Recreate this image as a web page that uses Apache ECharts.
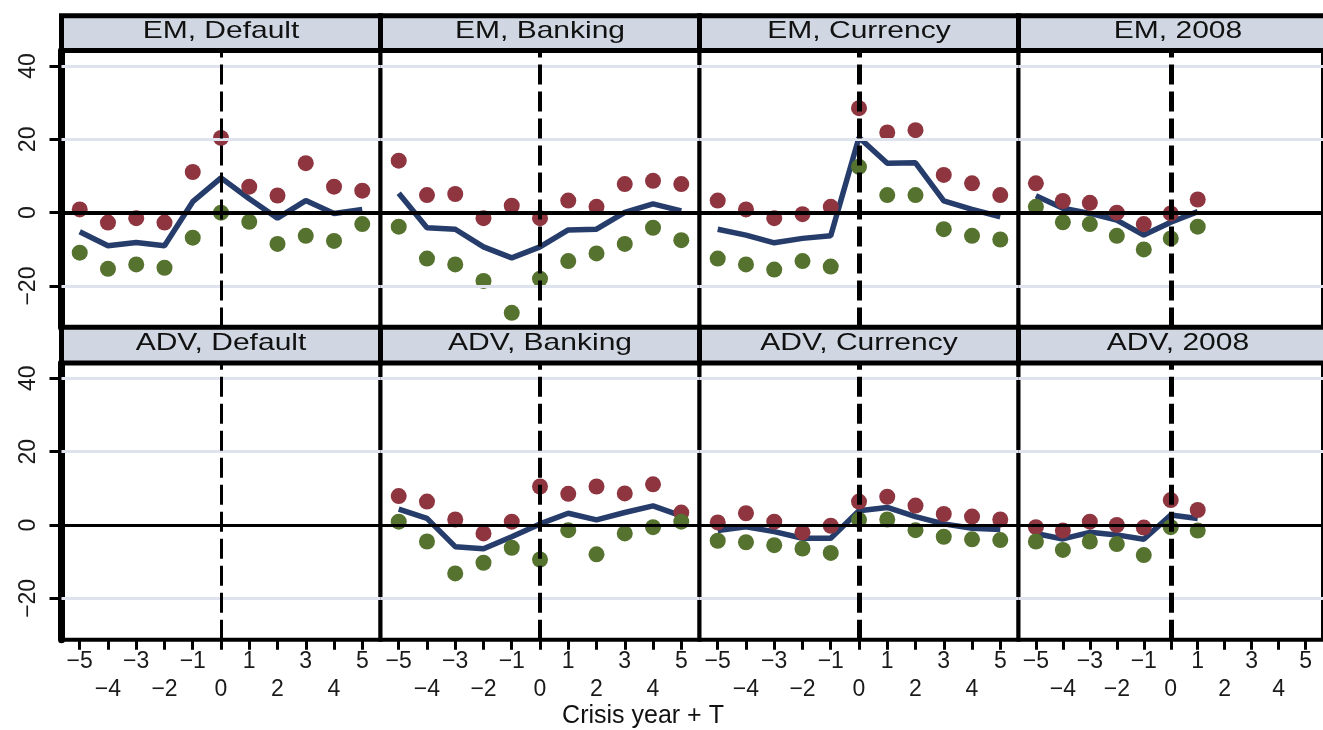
<!DOCTYPE html>
<html><head><meta charset="utf-8">
<script src="https://cdn.jsdelivr.net/npm/echarts@6/dist/echarts.min.js"></script>
<style>html,body{margin:0;padding:0;background:#fff}#chart{width:1323px;height:730px}</style>
</head><body><div id="chart"></div>
<script>
// ---------- data ----------
const years = [-5, -4, -3, -2, -1, 0, 1, 2, 3, 4, 5];
const years2008 = [-5, -4, -3, -2, -1, 0, 1];
const yTickValues = [-20, 0, 20, 40];
const refLineValues = [40, 20, -20];
const panelTitles = ['EM, Default', 'EM, Banking', 'EM, Currency', 'EM, 2008',
                     'ADV, Default', 'ADV, Banking', 'ADV, Currency', 'ADV, 2008'];
const axisTitle = 'Crisis year + T';

const emDefaultHigh = [0.9, -2.7, -1.5, -2.7, 11.1, 20.4, 7.1, 4.7, 13.5, 7.1, 6.0];
const emDefaultLow  = [-10.9, -15.3, -14.1, -15.0, -6.8, 0.0, -2.5, -8.5, -6.3, -7.7, -3.1];
const emDefaultMean = [-5.2, -9.0, -8.1, -9.0, 3.0, 9.5, 3.8, -1.5, 3.3, -0.2, 0.9];

const emBankingHigh = [14.2, 4.8, 5.1, -1.5, 1.9, -1.5, 3.3, 1.6, 7.8, 8.7, 7.8];
const emBankingLow  = [-3.8, -12.5, -14.1, -18.6, -27.3, -18.0, -13.2, -11.1, -8.5, -4.1, -7.5];
const emBankingMean = [5.3, -4.1, -4.5, -9.3, -12.3, -9.3, -4.7, -4.5, 0.1, 2.4, 0.5];

const emCurrencyHigh = [3.3, 0.9, -1.5, -0.4, 1.6, 28.5, 21.9, 22.5, 10.3, 8.0, 4.8];
const emCurrencyLow  = [-12.5, -14.1, -15.5, -13.2, -14.7, 12.5, 4.8, 4.8, -4.5, -6.3, -7.3];
const emCurrencyMean = [-4.5, -6.1, -8.2, -7.0, -6.3, 20.5, 13.5, 13.6, 3.2, 0.9, -1.1];

const em2008High = [8.0, 3.2, 2.7, 0.0, -3.1, -0.2, 3.6];
const em2008Low  = [1.6, -2.6, -3.1, -6.3, -10.0, -7.0, -3.8];
const em2008Mean = [4.6, 1.2, -0.2, -2.0, -6.1, -2.6, 0.3];

const advDefaultHigh = [];
const advDefaultLow  = [];
const advDefaultMean = [];

const advBankingHigh = [7.9, 6.4, 1.5, -2.3, 0.9, 10.5, 8.5, 10.5, 8.6, 11.1, 3.4];
const advBankingLow  = [0.9, -4.5, -13.2, -10.3, -6.2, -9.4, -1.4, -8.0, -2.3, -0.6, 0.9];
const advBankingMean = [4.3, 1.8, -5.9, -6.5, -3.2, 0.3, 3.2, 1.4, 3.4, 5.2, 2.5];

const advCurrencyHigh = [0.7, 3.2, 0.9, -2.0, -0.2, 6.4, 7.7, 5.3, 3.0, 2.3, 1.5];
const advCurrencyLow  = [-4.3, -4.7, -5.5, -6.4, -7.6, 1.4, 1.5, -1.4, -3.2, -3.9, -4.1];
const advCurrencyMean = [-1.5, -0.5, -1.8, -3.6, -3.6, 3.9, 4.8, 2.3, 0.3, -0.9, -1.2];

const adv2008High = [-0.6, -1.5, 0.9, 0.0, -0.7, 6.8, 4.1];
const adv2008Low  = [-4.5, -6.8, -4.5, -5.2, -8.2, -0.6, -1.5];
const adv2008Mean = [-2.3, -3.8, -2.0, -2.7, -3.9, 2.7, 1.8];

const panelData = [
  [years, emDefaultHigh, emDefaultLow, emDefaultMean],
  [years, emBankingHigh, emBankingLow, emBankingMean],
  [years, emCurrencyHigh, emCurrencyLow, emCurrencyMean],
  [years2008, em2008High, em2008Low, em2008Mean],
  [years, advDefaultHigh, advDefaultLow, advDefaultMean],
  [years, advBankingHigh, advBankingLow, advBankingMean],
  [years, advCurrencyHigh, advCurrencyLow, advCurrencyMean],
  [years2008, adv2008High, adv2008Low, adv2008Mean]
];

// ---------- style / layout ----------
const RED = '#8e3540', GREEN = '#55722e', NAVY = '#263d6c';
const STRIP = '#d0d7e2', REFLINE = '#dfe3ee';
const FONT = 'Liberation Sans';
const colLeft0 = 61.5, colW = 319;
const rowTop = [50.6, 362.9], rowH = 276.9;
const stripTop = [15.8, 327.2];
const stripH = [34.8, 35.7];
const stripTextY = [31, 343];
const dashW = [3, 4, 5, 5];
const zeroW = [4, 3];
const xMin = -5.645, xMax = 5.645, yMin = -31.3, yMax = 44.2;

const fmtNum = v => (v < 0 ? '\u2212' + Math.abs(v) : String(v));
const toPts = (xs, ys) => ys.map((v, k) => [xs[k], v]);

const grids = [], xAxes = [], yAxes = [], series = [], graphics = [];
for (let i = 0; i < 8; i++) {
  const r = Math.floor(i / 4), c = i % 4;
  const left = colLeft0 + c * colW;
  grids.push({left: left, top: rowTop[r], width: colW, height: rowH,
    show: true, borderColor: '#000', borderWidth: 4, backgroundColor: '#fff'});
  xAxes.push({
    gridIndex: i, type: 'value', min: xMin, max: xMax, position: 'bottom',
    splitLine: {show: false}, axisLine: {show: false, onZero: false},
    axisTick: {show: r === 1, customValues: years, length: 10, lineStyle: {color: '#000', width: 3}},
    axisLabel: {show: r === 1, customValues: years, margin: 8, lineHeight: 28,
      fontSize: 23, fontFamily: FONT, color: '#1a1a1a',
      formatter: v => (Math.abs(v) % 2 === 1 ? fmtNum(v) : '\n' + fmtNum(v))}
  });
  yAxes.push({
    gridIndex: i, type: 'value', min: yMin, max: yMax, position: 'left',
    splitLine: {show: false},
    axisLine: {show: c === 0, onZero: false, lineStyle: {color: '#000', width: 7}},
    axisTick: {show: c === 0, customValues: yTickValues, length: 12, lineStyle: {color: '#000', width: 3}},
    axisLabel: {show: c === 0, customValues: yTickValues, rotate: 90, margin: 21,
      fontSize: 23, fontFamily: FONT, color: '#1a1a1a', formatter: v => fmtNum(v)}
  });
  const [xs, hi, lo, mean] = panelData[i];
  series.push({
    type: 'line', xAxisIndex: i, yAxisIndex: i, data: [], z: 1, silent: true, animation: false,
    markLine: {
      symbol: 'none', silent: true, animation: false, label: {show: false},
      data: refLineValues.map(v => ({yAxis: v, lineStyle: {color: REFLINE, width: 3, type: 'solid'}}))
        .concat([
          {xAxis: 0, lineStyle: {color: '#000', width: dashW[c], type: [20, 7]}},
          {yAxis: 0, lineStyle: {color: '#000', width: zeroW[r], type: 'solid'}}
        ])
    }
  });
  series.push({
    name: 'Mean', type: 'line', xAxisIndex: i, yAxisIndex: i, data: toPts(xs, mean),
    symbol: 'none', lineStyle: {color: NAVY, width: 5.5}, z: 2, animation: false
  });
  series.push({
    name: 'Upper', type: 'scatter', xAxisIndex: i, yAxisIndex: i, data: toPts(xs, hi),
    symbol: 'circle', symbolSize: 16, itemStyle: {color: RED, opacity: 1}, z: 3, animation: false
  });
  series.push({
    name: 'Lower', type: 'scatter', xAxisIndex: i, yAxisIndex: i, data: toPts(xs, lo),
    symbol: 'circle', symbolSize: 16, itemStyle: {color: GREEN, opacity: 1}, z: 4, animation: false
  });
  graphics.push({
    type: 'rect', shape: {x: left, y: stripTop[r], width: colW, height: stripH[r]},
    style: {fill: STRIP, stroke: '#000', lineWidth: 5}, z: 10
  });
  graphics.push({
    type: 'text', x: left + colW / 2, y: stripTextY[r], scaleX: 1.25, z: 11,
    style: {text: panelTitles[i], fontSize: 24, fontFamily: FONT, fill: '#111',
      align: 'center', verticalAlign: 'middle'}
  });
}
graphics.push({
  type: 'text', x: 643, y: 716, z: 11,
  style: {text: axisTitle, fontSize: 25, fontFamily: FONT, fill: '#111',
    align: 'center', verticalAlign: 'middle'}
});

const chart = echarts.init(document.getElementById('chart'));
chart.setOption({
  animation: false,
  backgroundColor: '#fff',
  grid: grids, xAxis: xAxes, yAxis: yAxes, series: series, graphic: graphics
});
</script></body></html>
